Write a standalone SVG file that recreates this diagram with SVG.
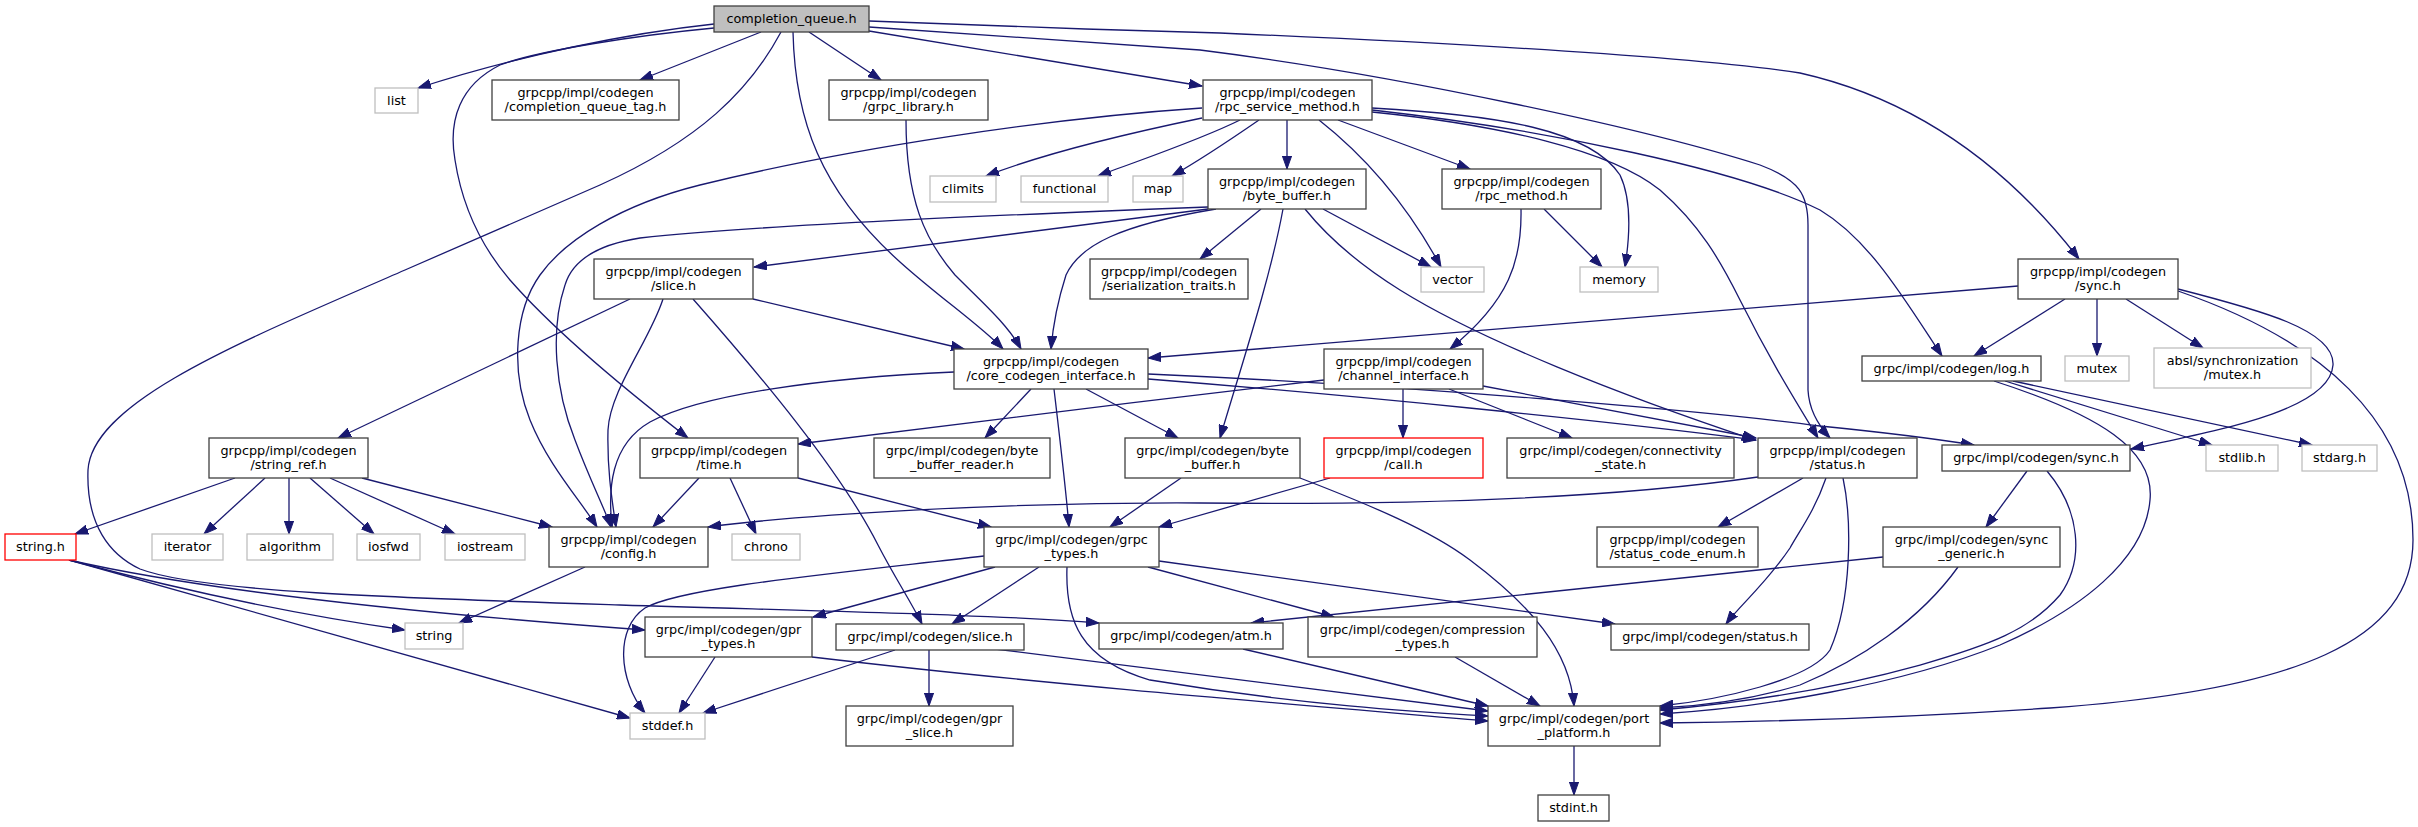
<svg xmlns="http://www.w3.org/2000/svg" width="2418" height="827" viewBox="0 0 2418 827">
<defs>
<marker id="arr" markerUnits="userSpaceOnUse" markerWidth="14" markerHeight="10" refX="13" refY="5" orient="auto">
<path d="M0,0.4 L13,5 L0,9.6 z" fill="#191970" stroke="#191970" stroke-width="1"/>
</marker>
<style>
.e path{fill:none;stroke:#191970;stroke-width:1.3;marker-end:url(#arr)}
.n rect{fill:#ffffff;stroke:#404040;stroke-width:1.3}
.n.x rect{stroke:#bfbfbf}
.n.r rect{stroke:#ff0000}
.n.root rect{fill:#bfbfbf}
text{font-family:"DejaVu Sans","Liberation Sans",sans-serif;font-size:12.8px;text-anchor:middle;fill:#000}
</style>
</defs>
<rect x="0" y="0" width="2418" height="827" fill="#ffffff"/>
<g id="connectors" class="e">
<path d="M714,24 C630,33 520,55 418,88"/>
<path d="M761,32 L640,80"/>
<path d="M809,32 L881,80"/>
<path d="M869,31 L1202,86"/>
<path d="M869,21 C1000,26 1100,30 1220,33 C1500,45 1700,58 1800,73 C1920,100 2010,170 2079,259"/>
<path d="M869,27 C1000,36 1100,43 1200,50 C1400,75 1650,130 1760,165 C1800,180 1808,195 1808,225 L1808,390 C1809,410 1818,425 1830,438"/>
<path d="M714,28 C640,35 540,50 500,65 C460,85 448,120 455,160 C462,205 480,245 510,280 C545,320 600,370 688,438"/>
<path d="M793,32 C795,120 820,190 900,262 C940,298 980,325 1003,349"/>
<path d="M906,120 C906,200 925,240 955,275 C985,305 1008,325 1021,349"/>
<path d="M781,32 C750,90 700,140 600,185 L405,270 C250,338 92,400 88,470 C86,525 110,555 140,569 C200,592 400,598 620,605 C850,612 1000,615 1099,623"/>
<path d="M1202,118 C1120,135 1040,155 986,176"/>
<path d="M1240,120 C1200,140 1140,160 1098,176"/>
<path d="M1259,120 C1230,140 1200,160 1172,176"/>
<path d="M1287,120 L1287,169"/>
<path d="M1319,120 C1370,160 1410,210 1441,267"/>
<path d="M1338,120 L1470,169"/>
<path d="M1372,108 C1500,115 1590,130 1620,175 C1632,200 1630,235 1625,267"/>
<path d="M1372,110 C1550,130 1740,170 1820,210 C1870,240 1905,300 1942,356"/>
<path d="M1372,112 C1500,125 1610,150 1660,190 C1700,225 1720,260 1740,300 C1770,360 1795,400 1818,438"/>
<path d="M1202,108 C1050,118 850,148 700,185 C620,205 565,240 540,275 C515,310 510,370 530,420 C548,465 580,500 597,527"/>
<path d="M1208,207 C1000,215 760,225 640,238 C595,245 572,262 565,285 C550,330 555,390 575,440 C590,480 603,505 611,527"/>
<path d="M1208,209 L754,267"/>
<path d="M1216,209 C1120,225 1080,245 1066,275 C1058,300 1053,325 1051,349"/>
<path d="M1261,209 L1200,259"/>
<path d="M1283,209 C1270,280 1240,370 1220,438"/>
<path d="M1323,209 L1431,267"/>
<path d="M1305,209 C1330,240 1360,265 1400,290 C1480,340 1620,395 1755,440"/>
<path d="M1544,209 L1602,267"/>
<path d="M1521,209 C1522,260 1510,300 1450,349"/>
<path d="M630,299 L338,438"/>
<path d="M663,299 C650,340 610,390 608,430 C607,470 612,500 616,527"/>
<path d="M693,299 C760,375 840,470 878,545 C895,578 910,600 922,624"/>
<path d="M753,299 L964,349"/>
<path d="M954,372 C820,378 700,395 650,422 C610,445 608,490 612,527"/>
<path d="M1031,389 L985,438"/>
<path d="M1054,389 C1060,440 1066,490 1069,527"/>
<path d="M1086,389 L1178,438"/>
<path d="M1148,379 C1350,395 1600,420 1756,440"/>
<path d="M1148,374 C1400,385 1700,410 1820,426 C1880,432 1930,438 1974,445"/>
<path d="M1324,380 C1150,400 950,425 798,444"/>
<path d="M1403,389 L1403,438"/>
<path d="M1449,389 L1572,438"/>
<path d="M1483,386 L1756,438"/>
<path d="M2018,286 L1148,358"/>
<path d="M2065,299 L1974,356"/>
<path d="M2097,299 L2097,356"/>
<path d="M2126,299 L2203,348"/>
<path d="M2178,289 C2260,310 2335,330 2333,365 C2330,410 2220,430 2131,449"/>
<path d="M2178,291 C2320,340 2413,420 2413,540 C2413,640 2300,690 2050,708 C1900,718 1750,722 1660,723"/>
<path d="M2005,381 L2212,445"/>
<path d="M2013,381 L2312,445"/>
<path d="M1994,381 C2100,415 2155,450 2150,500 C2145,560 2080,610 2000,645 C1900,685 1760,708 1660,714"/>
<path d="M2027,471 L1986,527"/>
<path d="M2047,471 C2080,510 2085,560 2060,595 C2030,630 1990,645 1920,665 C1830,690 1740,703 1660,710"/>
<path d="M1883,557 L1251,623"/>
<path d="M1958,567 C1920,620 1860,660 1800,685 C1750,700 1700,706 1660,708"/>
<path d="M1843,478 C1852,520 1852,600 1830,650 C1810,680 1720,700 1660,706"/>
<path d="M1758,477 C1600,500 1400,505 1200,503 C1000,502 800,515 708,527"/>
<path d="M1803,478 L1718,527"/>
<path d="M1826,478 C1815,510 1800,530 1790,548 C1765,585 1740,605 1726,624"/>
<path d="M1330,478 L1159,527"/>
<path d="M1181,478 L1110,527"/>
<path d="M1300,478 C1370,505 1430,530 1470,560 C1530,605 1570,650 1574,706"/>
<path d="M699,478 L653,527"/>
<path d="M730,478 L756,534"/>
<path d="M798,478 L991,527"/>
<path d="M235,478 L75,534"/>
<path d="M265,478 L204,534"/>
<path d="M289,478 L289,534"/>
<path d="M310,478 L374,534"/>
<path d="M330,478 L455,534"/>
<path d="M362,478 L552,527"/>
<path d="M585,567 L459,623"/>
<path d="M69,560 C180,590 300,615 405,630"/>
<path d="M69,560 C200,590 400,612 645,630"/>
<path d="M69,560 L630,718"/>
<path d="M984,556 C820,575 680,588 645,608 C615,628 618,680 645,713"/>
<path d="M995,567 L813,617"/>
<path d="M1039,567 L952,624"/>
<path d="M1067,567 C1065,620 1080,660 1150,680 C1300,705 1420,712 1488,716"/>
<path d="M1148,567 L1334,617"/>
<path d="M1159,561 L1615,624"/>
<path d="M715,657 L679,713"/>
<path d="M812,657 C1050,685 1300,705 1488,721"/>
<path d="M995,649 C1200,675 1400,700 1488,711"/>
<path d="M895,650 L703,713"/>
<path d="M929,650 L929,706"/>
<path d="M1243,649 L1488,706"/>
<path d="M1455,657 L1540,706"/>
<path d="M1574,746 L1574,795"/>
</g>
<g id="node-completion_queue" class="n root"><rect x="714" y="6" width="155" height="26"/><text x="791.5" y="23.3">completion_queue.h</text></g>
<g id="node-list" class="n x"><rect x="375" y="88" width="43" height="25"/><text x="396.5" y="104.8">list</text></g>
<g id="node-completion_queue_tag" class="n"><rect x="492" y="80" width="187" height="40"/><text x="585.5" y="96.7">grpcpp/impl/codegen</text><text x="585.5" y="111.3">/completion_queue_tag.h</text></g>
<g id="node-grpc_library" class="n"><rect x="829" y="80" width="159" height="40"/><text x="908.5" y="96.7">grpcpp/impl/codegen</text><text x="908.5" y="111.3">/grpc_library.h</text></g>
<g id="node-rpc_service_method" class="n"><rect x="1203" y="80" width="169" height="40"/><text x="1287.5" y="96.7">grpcpp/impl/codegen</text><text x="1287.5" y="111.3">/rpc_service_method.h</text></g>
<g id="node-climits" class="n x"><rect x="930" y="176" width="66" height="26"/><text x="963" y="193.3">climits</text></g>
<g id="node-functional" class="n x"><rect x="1021" y="176" width="87" height="26"/><text x="1064.5" y="193.3">functional</text></g>
<g id="node-map" class="n x"><rect x="1133" y="176" width="50" height="26"/><text x="1158" y="193.3">map</text></g>
<g id="node-byte_buffer_pp" class="n"><rect x="1208" y="169" width="158" height="40"/><text x="1287" y="185.7">grpcpp/impl/codegen</text><text x="1287" y="200.3">/byte_buffer.h</text></g>
<g id="node-rpc_method" class="n"><rect x="1442" y="169" width="159" height="40"/><text x="1521.5" y="185.7">grpcpp/impl/codegen</text><text x="1521.5" y="200.3">/rpc_method.h</text></g>
<g id="node-sync_pp" class="n"><rect x="2018" y="259" width="160" height="40"/><text x="2098" y="275.7">grpcpp/impl/codegen</text><text x="2098" y="290.3">/sync.h</text></g>
<g id="node-vector" class="n x"><rect x="1421" y="267" width="63" height="25"/><text x="1452.5" y="283.8">vector</text></g>
<g id="node-memory" class="n x"><rect x="1580" y="267" width="78" height="25"/><text x="1619" y="283.8">memory</text></g>
<g id="node-slice_pp" class="n"><rect x="594" y="259" width="159" height="40"/><text x="673.5" y="275.7">grpcpp/impl/codegen</text><text x="673.5" y="290.3">/slice.h</text></g>
<g id="node-serialization_traits" class="n"><rect x="1090" y="259" width="158" height="40"/><text x="1169" y="275.7">grpcpp/impl/codegen</text><text x="1169" y="290.3">/serialization_traits.h</text></g>
<g id="node-core_codegen_interface" class="n"><rect x="954" y="349" width="194" height="40"/><text x="1051" y="365.7">grpcpp/impl/codegen</text><text x="1051" y="380.3">/core_codegen_interface.h</text></g>
<g id="node-channel_interface" class="n"><rect x="1324" y="349" width="159" height="40"/><text x="1403.5" y="365.7">grpcpp/impl/codegen</text><text x="1403.5" y="380.3">/channel_interface.h</text></g>
<g id="node-log" class="n"><rect x="1862" y="356" width="179" height="25"/><text x="1951.5" y="372.8">grpc/impl/codegen/log.h</text></g>
<g id="node-mutex" class="n x"><rect x="2065" y="356" width="64" height="25"/><text x="2097" y="372.8">mutex</text></g>
<g id="node-absl_mutex" class="n x"><rect x="2154" y="348" width="157" height="40"/><text x="2232.5" y="364.7">absl/synchronization</text><text x="2232.5" y="379.3">/mutex.h</text></g>
<g id="node-string_ref" class="n"><rect x="209" y="438" width="159" height="40"/><text x="288.5" y="454.7">grpcpp/impl/codegen</text><text x="288.5" y="469.3">/string_ref.h</text></g>
<g id="node-time" class="n"><rect x="640" y="438" width="158" height="40"/><text x="719" y="454.7">grpcpp/impl/codegen</text><text x="719" y="469.3">/time.h</text></g>
<g id="node-byte_buffer_reader" class="n"><rect x="874" y="438" width="176" height="40"/><text x="962" y="454.7">grpc/impl/codegen/byte</text><text x="962" y="469.3">_buffer_reader.h</text></g>
<g id="node-byte_buffer_c" class="n"><rect x="1125" y="438" width="175" height="40"/><text x="1212.5" y="454.7">grpc/impl/codegen/byte</text><text x="1212.5" y="469.3">_buffer.h</text></g>
<g id="node-call" class="n r"><rect x="1324" y="438" width="159" height="40"/><text x="1403.5" y="454.7">grpcpp/impl/codegen</text><text x="1403.5" y="469.3">/call.h</text></g>
<g id="node-connectivity_state" class="n"><rect x="1507" y="438" width="227" height="40"/><text x="1620.5" y="454.7">grpc/impl/codegen/connectivity</text><text x="1620.5" y="469.3">_state.h</text></g>
<g id="node-status_pp" class="n"><rect x="1758" y="438" width="159" height="40"/><text x="1837.5" y="454.7">grpcpp/impl/codegen</text><text x="1837.5" y="469.3">/status.h</text></g>
<g id="node-sync_c" class="n"><rect x="1942" y="445" width="188" height="26"/><text x="2036" y="462.3">grpc/impl/codegen/sync.h</text></g>
<g id="node-stdlib" class="n x"><rect x="2206" y="445" width="72" height="26"/><text x="2242" y="462.3">stdlib.h</text></g>
<g id="node-stdarg" class="n x"><rect x="2302" y="445" width="75" height="26"/><text x="2339.5" y="462.3">stdarg.h</text></g>
<g id="node-string_h" class="n r"><rect x="5" y="534" width="71" height="26"/><text x="40.5" y="551.3">string.h</text></g>
<g id="node-iterator" class="n x"><rect x="152" y="534" width="71" height="26"/><text x="187.5" y="551.3">iterator</text></g>
<g id="node-algorithm" class="n x"><rect x="247" y="534" width="86" height="26"/><text x="290" y="551.3">algorithm</text></g>
<g id="node-iosfwd" class="n x"><rect x="357" y="534" width="63" height="26"/><text x="388.5" y="551.3">iosfwd</text></g>
<g id="node-iostream" class="n x"><rect x="445" y="534" width="80" height="26"/><text x="485" y="551.3">iostream</text></g>
<g id="node-config" class="n"><rect x="549" y="527" width="159" height="40"/><text x="628.5" y="543.7">grpcpp/impl/codegen</text><text x="628.5" y="558.3">/config.h</text></g>
<g id="node-chrono" class="n x"><rect x="732" y="534" width="68" height="26"/><text x="766" y="551.3">chrono</text></g>
<g id="node-grpc_types" class="n"><rect x="984" y="527" width="175" height="40"/><text x="1071.5" y="543.7">grpc/impl/codegen/grpc</text><text x="1071.5" y="558.3">_types.h</text></g>
<g id="node-status_code_enum" class="n"><rect x="1597" y="527" width="161" height="40"/><text x="1677.5" y="543.7">grpcpp/impl/codegen</text><text x="1677.5" y="558.3">/status_code_enum.h</text></g>
<g id="node-sync_generic" class="n"><rect x="1883" y="527" width="177" height="40"/><text x="1971.5" y="543.7">grpc/impl/codegen/sync</text><text x="1971.5" y="558.3">_generic.h</text></g>
<g id="node-string" class="n x"><rect x="405" y="623" width="58" height="26"/><text x="434" y="640.3">string</text></g>
<g id="node-gpr_types" class="n"><rect x="645" y="617" width="167" height="40"/><text x="728.5" y="633.7">grpc/impl/codegen/gpr</text><text x="728.5" y="648.3">_types.h</text></g>
<g id="node-slice_c" class="n"><rect x="836" y="624" width="188" height="26"/><text x="930" y="641.3">grpc/impl/codegen/slice.h</text></g>
<g id="node-atm" class="n"><rect x="1099" y="623" width="184" height="26"/><text x="1191" y="640.3">grpc/impl/codegen/atm.h</text></g>
<g id="node-compression_types" class="n"><rect x="1308" y="617" width="229" height="40"/><text x="1422.5" y="633.7">grpc/impl/codegen/compression</text><text x="1422.5" y="648.3">_types.h</text></g>
<g id="node-status_c" class="n"><rect x="1611" y="624" width="198" height="26"/><text x="1710" y="641.3">grpc/impl/codegen/status.h</text></g>
<g id="node-stddef" class="n x"><rect x="630" y="713" width="75" height="26"/><text x="667.5" y="730.3">stddef.h</text></g>
<g id="node-gpr_slice" class="n"><rect x="846" y="706" width="167" height="40"/><text x="929.5" y="722.7">grpc/impl/codegen/gpr</text><text x="929.5" y="737.3">_slice.h</text></g>
<g id="node-port_platform" class="n"><rect x="1488" y="706" width="172" height="40"/><text x="1574" y="722.7">grpc/impl/codegen/port</text><text x="1574" y="737.3">_platform.h</text></g>
<g id="node-stdint" class="n"><rect x="1538" y="795" width="71" height="26"/><text x="1573.5" y="812.3">stdint.h</text></g>
</svg>
